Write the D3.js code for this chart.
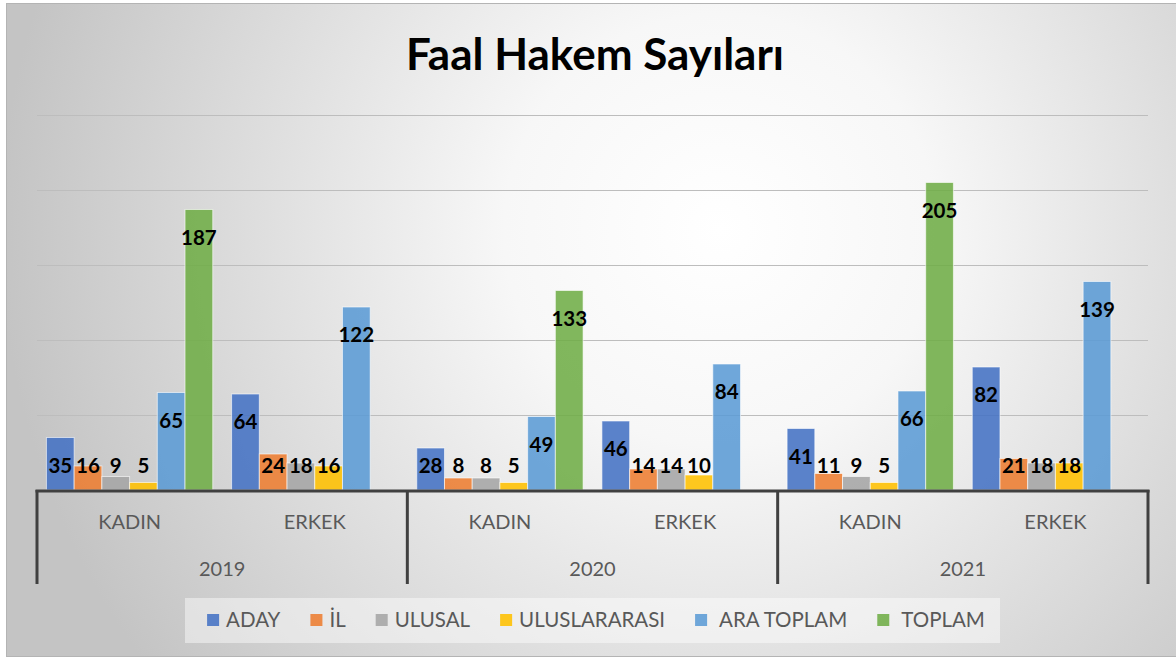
<!DOCTYPE html>
<html>
<head>
<meta charset="utf-8">
<script src="https://cdn.jsdelivr.net/npm/d3@7"></script>
<style>
  body { margin: 0; background: #fff; }
  svg { display: block; font-family: Lato, "Open Sans", sans-serif; }
</style>
</head>
<body>
<svg id="chart" width="1176" height="659"></svg>
<script>
// data
const years = ['2019', '2020', '2021']
const genders = ['KADIN', 'ERKEK']
const series = ['ADAY', 'İL', 'ULUSAL', 'ULUSLARARASI', 'ARA TOPLAM', 'TOPLAM']
const colors = ['#4472C4', '#ED7D31', '#A5A5A5', '#FFC000', '#5B9BD5', '#70AD47']

// one row per year/gender, in series order (ERKEK has no TOPLAM bar)
const aday = [35, 64, 28, 46, 41, 82]
const il = [16, 24, 8, 14, 11, 21]
const ulusal = [9, 18, 8, 14, 9, 18]
const uluslararasi = [5, 16, 5, 10, 5, 18]
const araToplam = [65, 122, 49, 84, 66, 139]
const toplam = [187, null, 133, null, 205, null]
const yTicks = [0, 50, 100, 150, 200, 250]

const seriesValues = [aday, il, ulusal, uluslararasi, araToplam, toplam]

const cats = []
years.forEach(y => genders.forEach(g => cats.push({ year: y, gender: g, key: y + '|' + g })))

const bars = []
cats.forEach((c, i) => {
    series.forEach((s, j) => {
        const v = seriesValues[j][i]
        if (v != null) bars.push({ cat: c.key, series: s, idx: j, value: v })
    })
})

const svg = d3.select('#chart')
const W = 1176, H = 659
const plot = { left: 37, right: 1148, top: 115, bottom: 490 }

// background with radial gradient, like the office chart area
const defs = svg.append('defs')
const grad = defs.append('radialGradient')
    .attr('id', 'bg')
    .attr('gradientUnits', 'userSpaceOnUse')
    .attr('cx', 720).attr('cy', 230).attr('r', 720)
grad.append('stop').attr('offset', '0%').attr('stop-color', '#ffffff')
grad.append('stop').attr('offset', '30%').attr('stop-color', '#f7f7f7')
grad.append('stop').attr('offset', '100%').attr('stop-color', '#c4c4c4')

svg.append('rect')
    .attr('x', 6.5).attr('y', 3.5)
    .attr('width', W).attr('height', 653)
    .attr('fill', 'url(#bg)')
    .attr('stroke', '#b4b4b4')

// scales
const x0 = d3.scaleBand()
    .domain(cats.map(d => d.key))
    .range([plot.left, plot.right])
    .padding(0)

const x1 = d3.scaleBand()
    .domain(series)
    .range([0, x0.bandwidth()])
    .paddingInner(0)
    .paddingOuter(0.34)

const y = d3.scaleLinear()
    .domain([0, 250])
    .range([plot.bottom, plot.top])

// gridlines
svg.append('g')
    .selectAll('line')
    .data(yTicks.slice(1))
    .join('line')
    .attr('x1', plot.left)
    .attr('x2', plot.right)
    .attr('y1', d => y(d) + 0.5)
    .attr('y2', d => y(d) + 0.5)
    .attr('stroke', '#bdbdbd')
    .attr('stroke-width', 1.2)

// bars
svg.append('g')
    .selectAll('rect')
    .data(bars)
    .join('rect')
    .attr('x', d => x0(d.cat) + x1(d.series))
    .attr('y', d => y(d.value))
    .attr('width', x1.bandwidth())
    .attr('height', d => y(0) - y(d.value))
    .attr('fill', d => colors[d.idx])
    .attr('fill-opacity', 0.88)
    .attr('stroke', '#ffffff')
    .attr('stroke-opacity', 0.6)
    .attr('stroke-width', 1)

// value labels (inside end, kept above the axis)
svg.append('g')
    .selectAll('text')
    .data(bars)
    .join('text')
    .attr('x', d => x0(d.cat) + x1(d.series) + x1.bandwidth() / 2)
    .attr('y', d => Math.min(y(d.value) + 28, plot.bottom - 24))
    .attr('dy', '0.36em')
    .attr('text-anchor', 'middle')
    .attr('font-size', 20.5)
    .attr('font-weight', 'bold')
    .attr('fill', '#000')
    .text(d => d.value)

// multi-level category axis
const axis = svg.append('g').attr('fill', '#595959')
axis.append('line')
    .attr('x1', plot.left - 1.5).attr('x2', plot.right + 1.5)
    .attr('y1', plot.bottom + 1).attr('y2', plot.bottom + 1)
    .attr('stroke', '#404040').attr('stroke-width', 3)

const yearX = d3.scaleBand().domain(years).range([plot.left, plot.right])
const dividers = years.map(d => yearX(d)).concat([plot.right])
axis.selectAll('.divider')
    .data(dividers)
    .join('line')
    .attr('class', 'divider')
    .attr('x1', d => d).attr('x2', d => d)
    .attr('y1', plot.bottom).attr('y2', 584)
    .attr('stroke', '#404040').attr('stroke-width', 3)

axis.selectAll('.gender')
    .data(cats)
    .join('text')
    .attr('class', 'gender')
    .attr('x', d => x0(d.key) + x0.bandwidth() / 2)
    .attr('y', 522)
    .attr('dy', '0.36em')
    .attr('text-anchor', 'middle')
    .attr('font-size', 20)
    .text(d => d.gender)

axis.selectAll('.year')
    .data(years)
    .join('text')
    .attr('class', 'year')
    .attr('x', d => yearX(d) + yearX.bandwidth() / 2)
    .attr('y', 569)
    .attr('dy', '0.36em')
    .attr('text-anchor', 'middle')
    .attr('font-size', 20)
    .text(d => d)

// title
svg.append('text')
    .attr('x', 595)
    .attr('y', 70)
    .attr('text-anchor', 'middle')
    .attr('font-size', 44)
    .attr('font-weight', 'bold')
    .attr('fill', '#000')
    .text('Faal Hakem Sayıları')

// legend
svg.append('rect')
    .attr('x', 185).attr('y', 598)
    .attr('width', 815).attr('height', 45)
    .attr('fill', '#ffffff').attr('fill-opacity', 0.45)

const legend = svg.append('g')
let lx = 0
const items = legend.selectAll('g')
    .data(series)
    .join('g')
items.append('rect')
    .attr('y', 614)
    .attr('width', 12).attr('height', 12)
    .attr('fill', (d, i) => colors[i])
    .attr('fill-opacity', 0.88)
items.append('text')
    .attr('x', (d, i) => i >= 4 ? 24 : 19)
    .attr('y', 620)
    .attr('dy', '0.36em')
    .attr('font-size', 20.5)
    .attr('fill', '#595959')
    .text(d => d)
items.each(function (d, i) {
    const g = d3.select(this)
    g.attr('transform', `translate(${lx},0)`)
    lx += (i >= 4 ? 24 : 19) + g.select('text').node().getComputedTextLength() + 30
})
const totalW = lx - 30
legend.attr('transform', `translate(${596 - totalW / 2},0)`)
</script>
</body>
</html>
